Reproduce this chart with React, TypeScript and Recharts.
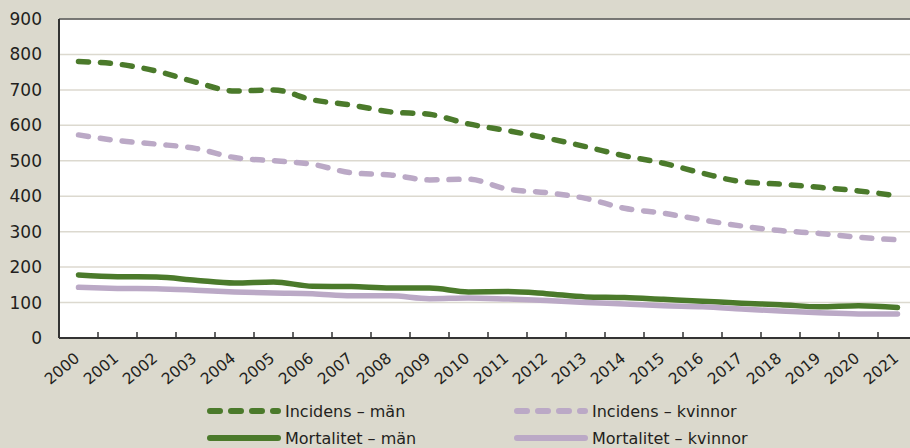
import React from "react";
import {
  LineChart,
  Line,
  XAxis,
  YAxis,
  CartesianGrid,
  ReferenceLine,
  Legend,
} from "recharts";

const years = [
  "2000", "2001", "2002", "2003", "2004", "2005", "2006", "2007", "2008", "2009", "2010",
  "2011", "2012", "2013", "2014", "2015", "2016", "2017", "2018", "2019", "2020", "2021",
];
const incidensMan = [780, 773, 753, 722, 697, 700, 672, 657, 638, 631, 604, 585, 564, 540, 514, 493, 465, 441, 434, 425, 415, 401];
const incidensKvinnor = [573, 557, 547, 535, 509, 500, 490, 466, 460, 446, 448, 420, 410, 394, 366, 352, 333, 316, 303, 295, 284, 277];
const mortalitetMan = [178, 173, 172, 163, 155, 158, 146, 145, 141, 141, 130, 131, 125, 116, 114, 109, 104, 98, 94, 88, 91, 86];
const mortalitetKvinnor = [143, 140, 139, 135, 130, 127, 125, 119, 119, 111, 113, 110, 106, 100, 96, 91, 88, 82, 76, 71, 68, 68];
const yTicks = [0, 100, 200, 300, 400, 500, 600, 700, 800, 900];

const data = years.map((year, i) => ({
  year,
  incMan: incidensMan[i],
  incKvinnor: incidensKvinnor[i],
  mortMan: mortalitetMan[i],
  mortKvinnor: mortalitetKvinnor[i],
}));

const GREEN = "#4b7a2b";
const LAVENDER = "#bba9c6";
const TEXT = "#231f20";
const FONT = "'DejaVu Sans', sans-serif";

const CHART_W = 930;
const Y_AXIS_W = 59;
const MARGIN_RIGHT = 13;
const BAND = (CHART_W - Y_AXIS_W - MARGIN_RIGHT) / years.length;

// year labels are rotated, tick marks sit on the band edges and point up into the plot
const YearTick = ({ x, y, payload, index }: any) => (
  <g>
    {index > 0 && (
      <line x1={x - BAND / 2} x2={x - BAND / 2} y1={y} y2={y - 6} stroke="#333" strokeWidth={1.5} />
    )}
    <text
      x={0}
      y={0}
      transform={`translate(${x + 2},${y + 22}) rotate(-40)`}
      textAnchor="end"
      fill={TEXT}
      fontSize={15.5}
      fontFamily={FONT}
    >
      {payload.value}
    </text>
  </g>
);

const legendItems = [
  { label: "Incidens – män", color: GREEN, dashed: true, left: 207, top: 0 },
  { label: "Incidens – kvinnor", color: LAVENDER, dashed: true, left: 514, top: 0 },
  { label: "Mortalitet – män", color: GREEN, dashed: false, left: 207, top: 27 },
  { label: "Mortalitet – kvinnor", color: LAVENDER, dashed: false, left: 514, top: 27 },
];

const renderLegend = () => (
  <div style={{ position: "relative", height: 50, fontFamily: FONT, fontSize: 16, color: TEXT }}>
    {legendItems.map((item) => (
      <div
        key={item.label}
        style={{ position: "absolute", left: item.left, top: item.top, height: 26, display: "flex", alignItems: "center" }}
      >
        <svg width={74} height={10}>
          <line
            x1={3}
            x2={71}
            y1={5}
            y2={5}
            stroke={item.color}
            strokeWidth={6}
            strokeLinecap="round"
            strokeDasharray={item.dashed ? "10 11" : undefined}
          />
        </svg>
        <span style={{ marginLeft: 4, whiteSpace: "nowrap" }}>{item.label}</span>
      </div>
    ))}
  </div>
);

export default function App() {
  return (
    <div
      style={{
        position: "fixed",
        left: 0,
        top: 0,
        width: 910,
        height: 448,
        background: "#dbd9cd",
        overflow: "hidden",
      }}
    >
      <LineChart width={CHART_W} height={448} data={data} margin={{ top: 19, right: MARGIN_RIGHT, left: 0, bottom: 0 }}>
        <CartesianGrid vertical={false} fill="#ffffff" stroke="#dcd9cf" strokeWidth={1.5} />
        <XAxis
          dataKey="year"
          scale="band"
          interval={0}
          height={60}
          tickLine={false}
          tickSize={0}
          tickMargin={0}
          axisLine={{ stroke: "#333", strokeWidth: 2 }}
          tick={<YearTick />}
        />
        <YAxis
          domain={[0, 900]}
          ticks={yTicks}
          interval={0}
          width={Y_AXIS_W}
          tickLine={false}
          tickSize={0}
          tickMargin={17}
          axisLine={{ stroke: "#333", strokeWidth: 2 }}
          tick={{ fill: TEXT, fontSize: 17, fontFamily: FONT }}
        />
        <ReferenceLine y={900} stroke="#555" strokeWidth={1.5} />
        <Line type="monotone" dataKey="incMan" stroke={GREEN} strokeWidth={5.5} strokeDasharray="10 12" strokeLinecap="round" dot={false} isAnimationActive={false} />
        <Line type="monotone" dataKey="incKvinnor" stroke={LAVENDER} strokeWidth={5.5} strokeDasharray="10 12" strokeLinecap="round" dot={false} isAnimationActive={false} />
        <Line type="monotone" dataKey="mortMan" stroke={GREEN} strokeWidth={5.5} strokeLinecap="round" dot={false} isAnimationActive={false} />
        <Line type="monotone" dataKey="mortKvinnor" stroke={LAVENDER} strokeWidth={5.5} strokeLinecap="round" dot={false} isAnimationActive={false} />
        <Legend verticalAlign="bottom" content={renderLegend} wrapperStyle={{ left: 0, width: 910, height: 50 }} />
      </LineChart>
    </div>
  );
}
